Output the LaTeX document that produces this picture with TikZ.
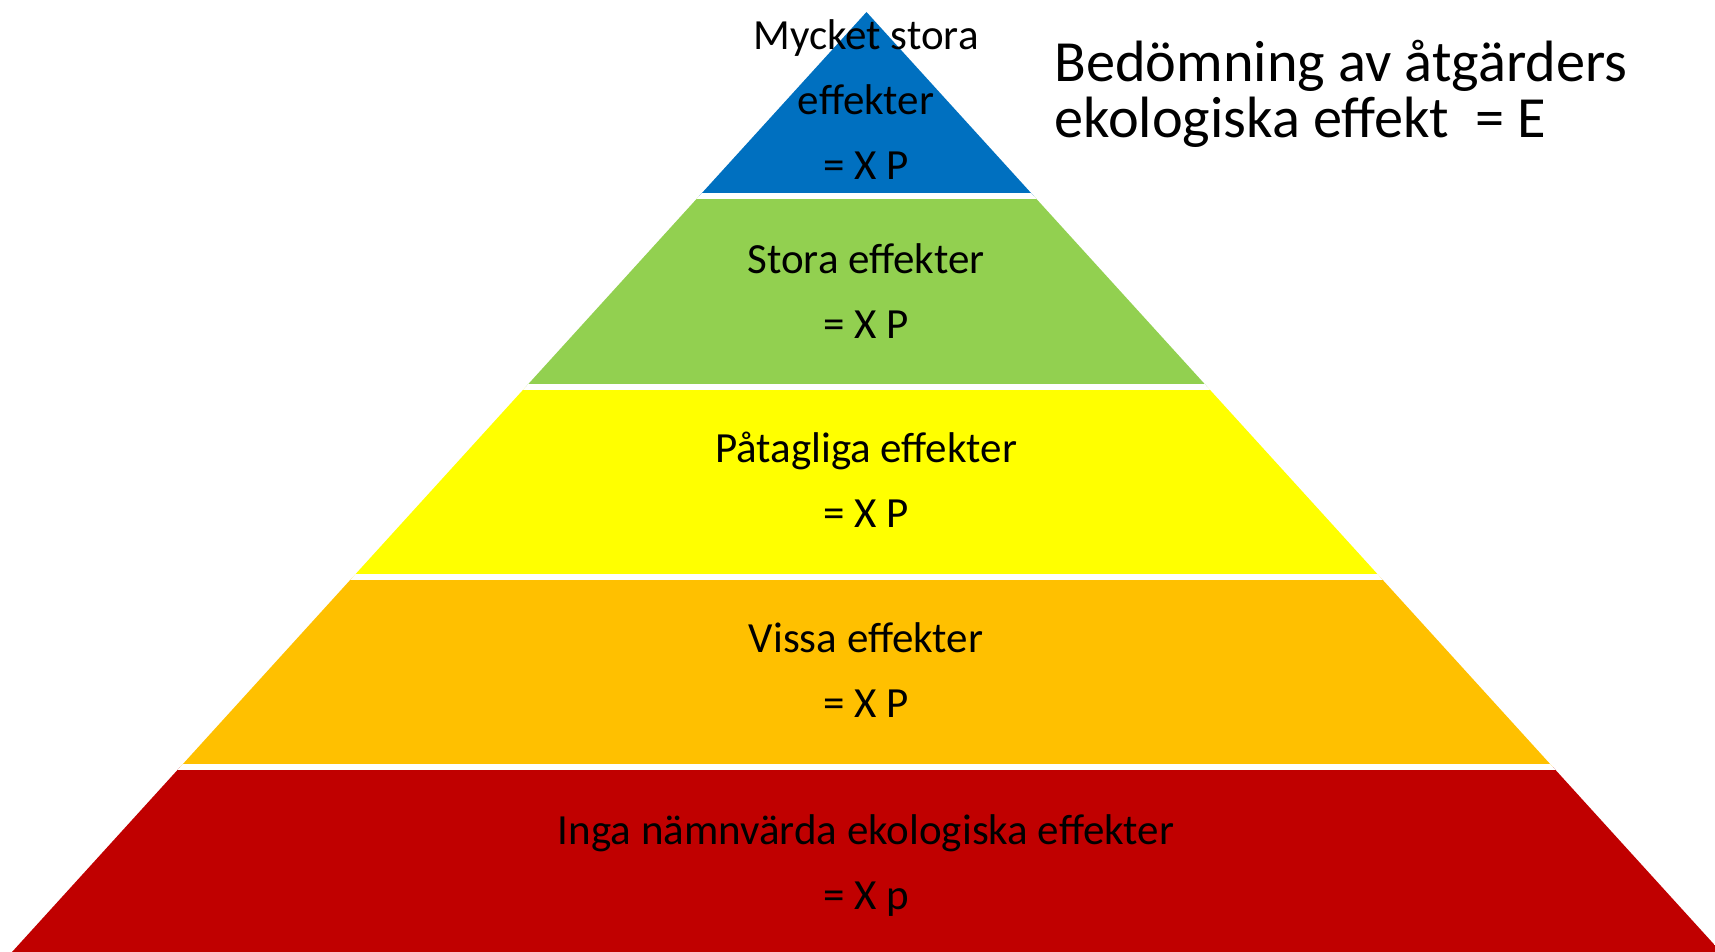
\documentclass[tikz,border=0pt]{standalone}
\usepackage{fontspec}
\setmainfont{Carlito}
\definecolor{nivablaa}{HTML}{0070C0}
\definecolor{nivagroen}{HTML}{92D050}
\definecolor{nivagul}{HTML}{FFFF00}
\definecolor{nivaorange}{HTML}{FFC000}
\definecolor{nivarod}{HTML}{C00000}
\begin{document}
\begin{tikzpicture}[x=1pt,y=-1pt,
    niva/.style={align=center,anchor=base,font=\fontsize{43}{65}\selectfont},
    rubrik/.style={align=left,anchor=base west,font=\fontsize{58.3}{56}\selectfont}]
    \useasboundingbox (0,0) rectangle (1715,952);

    % Pyramiden
    \begin{scope}
        \clip (0,0) rectangle (1715,952);
        \clip (866.5,12) -- (12,952) -- (1721,952) -- cycle;
        \fill[nivablaa] (0,0) rectangle (1715,196);
        \fill[nivagroen] (0,196) rectangle (1715,387);
        \fill[nivagul] (0,387) rectangle (1715,576.5);
        \fill[nivaorange] (0,576.5) rectangle (1715,767);
        \fill[nivarod] (0,767) rectangle (1715,952);
        % Vita skarvar
        \foreach \y in {196,387,576.5,767}
            \draw[white,line width=6pt] (0,\y) -- (1715,\y);
    \end{scope}

    % Texter (base = sista raden)
    \node[niva] (mycket) at (866,180) {Mycket stora\\effekter\\= X P};
    \node[niva] (stora) at (866,338) {Stora effekter\\= X P};
    \node[niva] (patagliga) at (866,527) {Påtagliga effekter\\= X P};
    \node[niva] (vissa) at (866,717) {Vissa effekter\\= X P};
    \node[niva] (inga) at (866,909) {Inga nämnvärda ekologiska effekter\\= X p};

    % Rubrik
    \node[rubrik] (rubrik) at (1051,138) {Bedömning av åtgärders\\ekologiska effekt\ \ = E};
\end{tikzpicture}
\end{document}
